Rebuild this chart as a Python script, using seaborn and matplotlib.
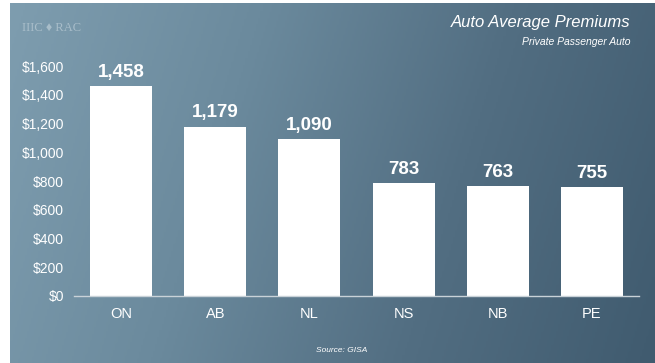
import numpy as np
import pandas as pd
import matplotlib
matplotlib.use("Agg")
import matplotlib.pyplot as plt
from matplotlib.colors import LinearSegmentedColormap
import seaborn as sns

provinces = ["ON", "AB", "NL", "NS", "NB", "PE"]
premiums = [1458, 1179, 1090, 783, 763, 755]
ytick_values = [0, 200, 400, 600, 800, 1000, 1200, 1400, 1600]
title = "Auto Average Premiums"
subtitle = "Private Passenger Auto"
source = "Source: GISA"

df = pd.DataFrame({"Province": provinces, "Premium": premiums})

sns.set_theme(style="white")
plt.rcParams["font.family"] = ["Liberation Sans", "DejaVu Sans"]

fig = plt.figure(figsize=(6.55, 3.63), dpi=100)
fig.patch.set_facecolor("white")

# background gradient panel
bg = fig.add_axes([10/655, 0, 1 - 10/655, 1 - 3/363])
bg.set_axis_off()
cmap = LinearSegmentedColormap.from_list("bgc", ["#7e9daf", "#6b8a9d", "#526e82", "#405b6f"])
gx = np.linspace(0, 1, 300)
gy = np.linspace(0, 1, 160)
X, Y = np.meshgrid(gx, gy)
Z = 0.85 * X + 0.15 * Y
bg.imshow(Z, cmap=cmap, aspect="auto", extent=[0, 1, 0, 1], origin="upper", vmin=0, vmax=1)
bg.set_xlim(0, 1)
bg.set_ylim(0, 1)

ax = fig.add_axes([74/655, 1 - 296/363, 565/655, 230/363])
ax.set_facecolor("none")
sns.barplot(data=df, x="Province", y="Premium", color="white", saturation=1,
            width=0.66, ax=ax, edgecolor="none")
ax.set_ylim(0, 1600)
ax.set_xlim(-0.5, 5.5)
ax.set_yticks(ytick_values)
ax.set_yticklabels([f"${v:,}" for v in ytick_values], color="white", fontsize=10)
ax.tick_params(axis="y", length=0, pad=7)
ax.tick_params(axis="x", length=0, pad=8, labelsize=10.5, labelcolor="white")
ax.set_xlabel("")
ax.set_ylabel("")
for s in ["top", "right", "left"]:
    ax.spines[s].set_visible(False)
ax.spines["bottom"].set_color("#c9d2d8")
ax.spines["bottom"].set_linewidth(1.0)
ax.grid(False)

for cont in ax.containers:
    ax.bar_label(cont, labels=[f"{v:,}" for v in premiums], padding=4,
                 color="white", fontsize=13.5, fontweight="bold")

fig.text(630/655, 1 - 23/363, title, ha="right", va="center", color="white",
         fontsize=12, fontstyle="italic")
fig.text(630/655, 1 - 42/363, subtitle, ha="right", va="center", color="white",
         fontsize=7.5, fontstyle="italic")
fig.text(342/655, 1 - 350/363, source, ha="center", va="center", color="white",
         fontsize=6, fontstyle="italic")
fig.text(22/655, 1 - 28/363, "IIIC \u2666 RAC", ha="left", va="center", color="#c8d6de",
         fontsize=9, family=["Liberation Serif", "DejaVu Serif"], alpha=0.6)

fig.savefig("out.png", dpi=100, facecolor=fig.get_facecolor())
